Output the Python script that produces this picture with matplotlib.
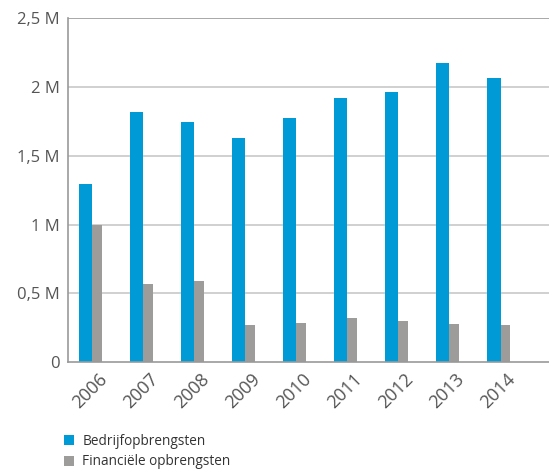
import numpy as np
import matplotlib.pyplot as plt
from matplotlib.ticker import FuncFormatter

plt.rcParams['font.family'] = ['Open Sans', 'DejaVu Sans']

years = ['2006', '2007', '2008', '2009', '2010', '2011', '2012', '2013', '2014']
bedrijf = [1.295, 1.82, 1.747, 1.63, 1.776, 1.92, 1.965, 2.176, 2.067]
financ = [1.0, 0.568, 0.59, 0.27, 0.284, 0.32, 0.298, 0.277, 0.27]
yticks = [0, 0.5, 1, 1.5, 2, 2.5]

blue = '#009ad7'
grey = '#9d9c9a'

fig = plt.figure(figsize=(5.49, 4.70), dpi=100)
ax = fig.add_axes([68.3 / 549, 1 - 362 / 470, 1 - 68.3 / 549, (362 - 18.3) / 470])

x = np.arange(len(years))
# blue bar left of the category point, grey bar right of it
ax.bar(x, bedrijf, width=-0.26, align='edge', color=blue, label='Bedrijfopbrengsten')
ax.bar(x, financ, width=0.19, align='edge', color=grey, label='Financiële opbrengsten')

ax.set_xlim(-0.47, 8.95)
ax.set_ylim(0, 2.5)
ax.set_yticks(yticks)

def fmt(v, pos):
    if v == 0:
        return '0'
    s = ('%g' % v).replace('.', ',')
    return s + ' M'

ax.yaxis.set_major_formatter(FuncFormatter(fmt))
ax.set_xticks(x + 0.12)
ax.set_xticklabels(years, rotation=45, ha='right', rotation_mode='anchor', fontsize=13)

for yv in yticks[1:-1]:
    ax.axhline(yv, color='#c8c8c8', lw=1.2, zorder=0)
ax.axhline(2.5, color='#999999', lw=1.2, zorder=0)

for s in ['top', 'right']:
    ax.spines[s].set_visible(False)
ax.spines['left'].set_color('#999999')
ax.spines['bottom'].set_color('#999999')
ax.spines['left'].set_linewidth(1.2)
ax.spines['bottom'].set_linewidth(1.2)

ax.tick_params(axis='both', length=0, colors='#555555')
ax.tick_params(axis='y', pad=6, labelsize=12)
ax.tick_params(axis='x', pad=6)

leg = fig.legend(loc='upper left', bbox_to_anchor=(64 / 549, 1 - 434 / 470),
                 frameon=False, fontsize=9.8, handlelength=0.75, handleheight=0.75,
                 handletextpad=0.6, labelspacing=0.4, borderaxespad=0, borderpad=0)
for t in leg.get_texts():
    t.set_color('#333333')

fig.savefig('out.png', dpi=100)
